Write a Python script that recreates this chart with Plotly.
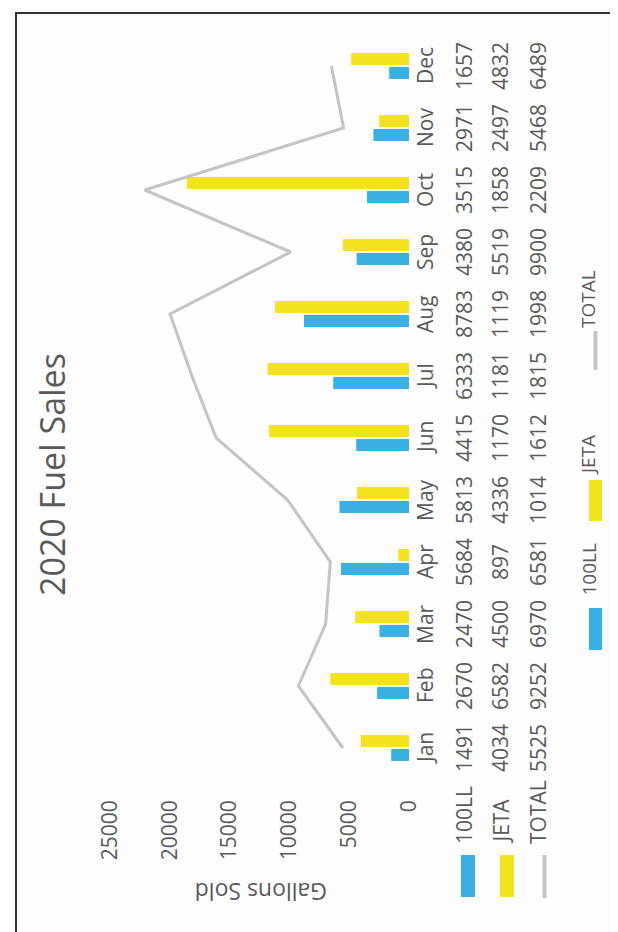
import plotly.graph_objects as go

months = ["Jan", "Feb", "Mar", "Apr", "May", "Jun", "Jul", "Aug", "Sep", "Oct", "Nov", "Dec"]
ll100 = [1491, 2670, 2470, 5684, 5813, 4415, 6333, 8783, 4380, 3515, 2971, 1657]
jeta = [4034, 6582, 4500, 897, 4336, 11705, 11818, 11199, 5519, 18580, 2497, 4832]
total = [5525, 9252, 6970, 6581, 10149, 16120, 18151, 19982, 9900, 22095, 5468, 6489]
value_ticks = [0, 5000, 10000, 15000, 20000, 25000]
series_names = ["100LL", "JETA", "TOTAL"]

BLUE = "#3AB0E2"
YELLOW = "#F2E31E"
GRAY = "#C3C3C8"
TXT = "#5a5a5a"
FONT = "Open Sans"

W, H = 618, 932
L, R, T, B = 102, 401, 27, 771


def px(x):
    return (x - L) / (R - L)


def py(y):
    return (B - y) / (B - T)


fig = go.Figure()
fig.add_trace(go.Bar(y=months, x=ll100, orientation="h", name="100LL",
                     marker=dict(color=BLUE, line=dict(width=0))))
fig.add_trace(go.Bar(y=months, x=jeta, orientation="h", name="JETA",
                     marker=dict(color=YELLOW, line=dict(width=0))))
fig.add_trace(go.Scatter(y=months, x=total, mode="lines", name="TOTAL",
                         line=dict(color=GRAY, width=3)))

ann = []
# title
ann.append(dict(text="2020 Fuel Sales", x=px(44), y=py(467), xref="paper", yref="paper",
                textangle=-90, showarrow=False, font=dict(family=FONT, size=34, color=TXT),
                xanchor="center", yanchor="middle"))
# axis title
ann.append(dict(text="Gallons Sold", x=px(253), y=py(884), xref="paper", yref="paper",
                textangle=180, showarrow=False, font=dict(family=FONT, size=23, color=TXT),
                xanchor="center", yanchor="middle"))

# data table
cols = [417, 456, 492, 530]
rows = [months, ll100, jeta, total]
for ci, (cx, row) in enumerate(zip(cols, rows)):
    for m, v in zip(months, row):
        ann.append(dict(text=str(v)[:4], x=px(cx), y=m, xref="paper", yref="y",
                        textangle=-90, showarrow=False,
                        font=dict(family=FONT, size=21, color=TXT),
                        xanchor="center", yanchor="middle"))

shapes = []
# table row headers
for cx, name in zip(cols[1:], series_names):
    ann.append(dict(text=name, x=px(cx), y=py(838), xref="paper", yref="paper",
                    textangle=-90, showarrow=False,
                    font=dict(family=FONT, size=21, color=TXT),
                    xanchor="center", yanchor="bottom"))
shapes.append(dict(type="rect", xref="paper", yref="paper", x0=px(453), x1=px(467),
                   y0=py(847), y1=py(889), fillcolor=BLUE, line=dict(width=0)))
shapes.append(dict(type="rect", xref="paper", yref="paper", x0=px(492), x1=px(506),
                   y0=py(847), y1=py(889), fillcolor=YELLOW, line=dict(width=0)))
shapes.append(dict(type="line", xref="paper", yref="paper", x0=px(536.5), x1=px(536.5),
                   y0=py(847), y1=py(890), line=dict(color=GRAY, width=4)))

# legend
leg_x = 580
shapes.append(dict(type="rect", xref="paper", yref="paper", x0=px(581), x1=px(594),
                   y0=py(600), y1=py(642), fillcolor=BLUE, line=dict(width=0)))
shapes.append(dict(type="rect", xref="paper", yref="paper", x0=px(581), x1=px(594),
                   y0=py(472), y1=py(513), fillcolor=YELLOW, line=dict(width=0)))
shapes.append(dict(type="line", xref="paper", yref="paper", x0=px(587.5), x1=px(587.5),
                   y0=py(323), y1=py(362), line=dict(color=GRAY, width=4)))
for name, yb in zip(series_names, [590, 469, 322]):
    ann.append(dict(text=name, x=px(leg_x), y=py(yb), xref="paper", yref="paper",
                    textangle=-90, showarrow=False,
                    font=dict(family=FONT, size=19, color=TXT),
                    xanchor="center", yanchor="bottom"))

# border
shapes.append(dict(type="rect", xref="paper", yref="paper", x0=px(8), x1=px(640),
                   y0=py(928), y1=py(5), line=dict(color="#333333", width=2),
                   fillcolor="rgba(0,0,0,0)", layer="below"))

fig.update_layout(
    width=W, height=H, autosize=False,
    margin=dict(l=L, r=W - R, t=T, b=H - B, pad=0),
    paper_bgcolor="#fdfdfd", plot_bgcolor="rgba(0,0,0,0)",
    showlegend=False,
    barmode="group", bargap=0.55, bargroupgap=0.14,
    annotations=ann, shapes=shapes,
    xaxis=dict(range=[25000, 0], tickvals=value_ticks, tickformat="d", tickangle=-90,
               showgrid=False, zeroline=False, showline=False, ticks="",
               ticklabelstandoff=16,
               tickfont=dict(family=FONT, size=21, color=TXT)),
    yaxis=dict(type="category", range=[-0.5, 11.5], showticklabels=False,
               showgrid=False, zeroline=False, showline=False, ticks=""),
)

fig.write_html("out.html")
